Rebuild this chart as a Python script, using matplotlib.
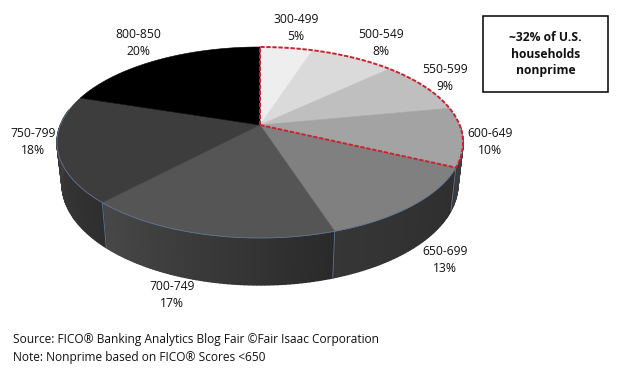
"""FICO score distribution as a tilted 3D-look pie, with nonprime slices outlined."""

import matplotlib

matplotlib.use("Agg")
import matplotlib.pyplot as plt
import numpy as np
from matplotlib.colors import to_rgb
from matplotlib.patches import Polygon, Rectangle

score_bands = ["300-499", "500-549", "550-599", "600-649", "650-699", "700-749", "750-799", "800-850"]
shares = [5, 8, 9, 10, 13, 17, 18, 20]
nonprime_bands = 4

top_colors = ["#eeeeee", "#dadada", "#bfbfbf", "#a3a3a3", "#808080", "#555555", "#3d3d3d", "#000000"]
side_colors = [
    ("#3c3c3c", "#3c3c3c"),
    ("#3c3c3c", "#3c3c3c"),
    ("#3c3c3c", "#3c3c3c"),
    ("#454548", "#3a3a3c"),
    ("#2e2e2e", "#363636"),
    ("#2a2a2a", "#484848"),
    ("#2e2e2e", "#424242"),
    ("#3c3c3c", "#3c3c3c"),
]
label_pos = [(296, 28), (381, 43), (445, 78), (490, 142), (445, 260), (172, 295), (33, 142), (138, 43)]

callout = "~32% of U.S.\nhouseholds\nnonprime"
notes = [
    "Source: FICO® Banking Analytics Blog Fair ©Fair Isaac Corporation",
    "Note: Nonprime based on FICO® Scores <650",
]

# perspective of the disc in pixels
CX, CY = 260, 125
RX, RY = 199.6, 92.3
TILT = 0.183
BASE_SCALE = 0.975
DEPTH = 40.7
EDGE = "#5f7896"
RED = "#cf2030"

plt.rcParams["font.family"] = ["Open Sans", "DejaVu Sans"]


def top_xy(angle):
    # angle in degrees, clockwise from 12 o'clock
    u, v = np.sin(np.radians(angle)), np.cos(np.radians(angle))
    w = 1 + TILT * v
    return CX + RX * u / w, CY - RY * v / w


def base_xy(angle):
    u, v = np.sin(np.radians(angle)), np.cos(np.radians(angle))
    w = 1 + TILT * v
    return CX + BASE_SCALE * RX * u / w, CY + (DEPTH - BASE_SCALE * RY * v) / w


def mix(c1, c2, t):
    return tuple((1 - t) * a + t * b for a, b in zip(to_rgb(c1), to_rgb(c2)))


fig = plt.figure(figsize=(6.17, 3.71), dpi=100)
ax = fig.add_axes([0, 0, 1, 1])
ax.set_xlim(0, 617)
ax.set_ylim(371, 0)
ax.axis("off")

edges = 360 * np.cumsum([0] + shares) / sum(shares)

# rim first, only the slices facing the viewer are left visible
for i in range(len(shares)):
    a0, a1 = edges[i], edges[i + 1]
    steps = np.linspace(a0, a1, int(a1 - a0) + 2)
    for j in range(len(steps) - 1):
        s0, s1 = steps[j], steps[j + 1]
        if 90 < (s0 + s1) / 2 < 280:
            color = mix(side_colors[i][0], side_colors[i][1], j / (len(steps) - 1))
            quad = np.array([top_xy(s0), top_xy(s1), base_xy(s1), base_xy(s0)])
            ax.add_patch(Polygon(quad, closed=True, fc=color, ec=color, lw=1.0, zorder=1))
    if 100 < a0 < 280:
        ax.plot(*zip(top_xy(a0), base_xy(a0)), color=EDGE, lw=0.6, zorder=2)

# top face
for i in range(len(shares)):
    arc = np.linspace(edges[i], edges[i + 1], 60)
    xs, ys = top_xy(arc)
    pts = np.column_stack([np.r_[CX, xs], np.r_[CY, ys]])
    ax.add_patch(Polygon(pts, closed=True, fc=top_colors[i], ec=top_colors[i], lw=0.4, zorder=3))

rim = np.linspace(edges[nonprime_bands], 280, 120)
ax.plot(*top_xy(rim), color=EDGE, lw=0.6, zorder=4)

# dashed outline round the nonprime slices
arc = np.linspace(0, edges[nonprime_bands], 200)
xs, ys = top_xy(arc)
ax.plot(np.r_[CX, xs, CX], np.r_[CY, ys, CY], color=RED, lw=1.4, ls=(0, (2.2, 0.9)), zorder=5)

for band, share, (x, y) in zip(score_bands, shares, label_pos):
    ax.text(x, y, f"{band}\n{share}%", ha="center", va="center", fontsize=8.7,
            linespacing=1.32, color="#111111", zorder=6)

ax.add_patch(Rectangle((483, 16), 125, 76, fc="white", ec="black", lw=1.1, zorder=6))
ax.text(545.5, 54, callout, ha="center", va="center", fontsize=8.7, fontweight="bold",
        linespacing=1.32, color="#111111", zorder=7)

ax.text(13, 340, notes[0], ha="left", va="center", fontsize=8.55, color="#111111")
ax.text(13, 358, notes[1], ha="left", va="center", fontsize=8.55, color="#111111")

fig.savefig("out.png", dpi=100)
